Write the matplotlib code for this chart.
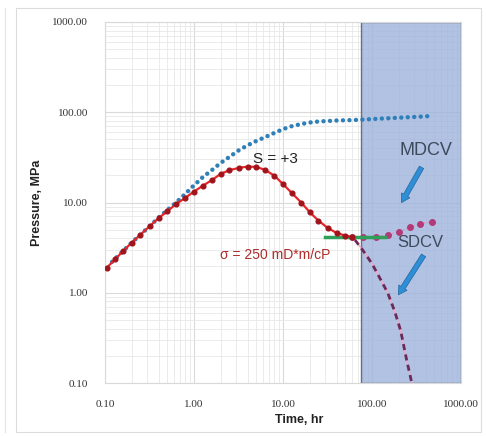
import numpy as np
import matplotlib
matplotlib.use('Agg')
import matplotlib.pyplot as plt
from matplotlib.patches import Rectangle, FancyArrowPatch
from matplotlib.lines import Line2D
from matplotlib.ticker import FixedLocator, LogLocator, NullFormatter

# red curve (S = +3), matched data
red_t = [0.105, 0.13, 0.16, 0.2, 0.25, 0.32, 0.4, 0.5, 0.63, 0.8, 1.0, 1.25, 1.6, 2.0,
         2.5, 3.2, 4.0, 5.0, 6.3, 8.0, 10, 12.5, 16, 20, 25, 32, 40, 50, 60]
red_p = [1.9, 2.35, 2.9, 3.6, 4.4, 5.5, 6.7, 8.0, 9.6, 11.3, 13.2, 15.3, 17.8, 20.8,
         22.8, 24.2, 25.0, 24.8, 23.0, 19.8, 16, 12.8, 10, 7.8, 6.3, 5.2, 4.6, 4.3, 4.15]

# MDCV (blue dots)
mdcv_t = [0.12, 0.16, 0.2, 0.25, 0.32, 0.4, 0.5, 0.63, 0.8, 1.0, 1.25, 1.6, 2.0, 2.5,
          3.2, 4.0, 5.0, 6.3, 8.0, 10, 12.5, 16, 20, 25, 32, 40, 50, 63, 80, 100,
          125, 160, 200, 250, 320, 400, 450]
mdcv_p = [2.2, 2.9, 3.6, 4.4, 5.5, 6.8, 8.2, 10, 12.5, 15.5, 19, 23, 27.5, 32,
          38, 43, 48, 53, 59, 65, 70, 74, 77, 79, 80, 81, 81.5, 82, 83, 84,
          85, 86, 87, 88, 89, 90, 91]

# SDCV (pink dots)
sdcv_t = [60, 80, 110, 150, 200, 270, 350, 470]
sdcv_p = [4.1, 4.1, 4.2, 4.4, 4.75, 5.3, 5.85, 6.1]

# dashed decline
dash_t = [50, 65, 80, 100, 125, 150, 180, 210, 245, 280]
dash_p = [4.3, 3.8, 2.9, 2.1, 1.4, 1.0, 0.62, 0.38, 0.18, 0.1]

# green line (sigma)
green_t = [30, 140]
green_p = [4.2, 4.2]

# shaded late-time region
shade_t = [75, 1000]

xticks = [0.1, 1, 10, 100, 1000]
yticks = [0.1, 1, 10, 100, 1000]

fig = plt.figure(figsize=(4.86, 4.36), dpi=100)
ax = fig.add_axes([105/486, 1-383/436, 356/486, 361/436])
ax.set_xscale('log')
ax.set_yscale('log')
ax.set_xlim(0.1, 1000)
ax.set_ylim(0.1, 1000)

ax.xaxis.set_major_locator(FixedLocator(xticks))
ax.yaxis.set_major_locator(FixedLocator(yticks))
ax.xaxis.set_minor_locator(LogLocator(base=10, subs=np.arange(2, 10)))
ax.yaxis.set_minor_locator(LogLocator(base=10, subs=np.arange(2, 10)))
ax.xaxis.set_minor_formatter(NullFormatter())
ax.yaxis.set_minor_formatter(NullFormatter())
ax.set_xticklabels(['%.2f' % v for v in xticks], family='Liberation Serif', fontsize=8, color='#333333')
ax.set_yticklabels(['%.2f' % v for v in yticks], family='Liberation Serif', fontsize=8, color='#333333')
ax.tick_params(which='both', length=0)
ax.tick_params(axis='x', pad=12)
ax.tick_params(axis='y', pad=12)
ax.grid(True, which='major', color='#dadada', lw=0.8)
ax.grid(True, which='minor', color='#e8e8e8', lw=0.6)
ax.set_axisbelow(True)
for s in ax.spines.values():
    s.set_color('#d9d9d9')
    s.set_linewidth(0.8)

ax.axvspan(shade_t[0], shade_t[1], facecolor='#9fb3dc', alpha=0.8,
           edgecolor='#4a5060', lw=1.0, zorder=1)

ax.plot(mdcv_t, mdcv_p, color='#2f80b8', lw=3.2, linestyle=(0, (0.01, 1.45)),
        dash_capstyle='round', zorder=3)

ax.plot(dash_t, dash_p, color='#f2a6c8', lw=1.0, zorder=3)
ax.plot(dash_t, dash_p, color='#6b2a58', lw=2.0, linestyle=(0, (2.2, 1.6)), zorder=4)

ax.plot(sdcv_t, sdcv_p, color='#e58ab4', lw=1.0, linestyle=':', zorder=3)
ax.plot(sdcv_t, sdcv_p, linestyle='none', marker='o', ms=4, color='#b23a78', zorder=4)

ax.plot(green_t, green_p, color='#2ea05a', lw=2.5, zorder=4)

ax.plot(red_t, red_p, color='#e8262a', lw=1.6, zorder=5)
ax.plot(red_t, red_p, linestyle='none', marker='o', ms=3.4, color='#a0141c', zorder=6)

ax.text(0.48, 0.62, 'S = +3', transform=ax.transAxes, fontsize=11,
        family='Liberation Sans', color='#222222', ha='center', va='center')
ax.text(0.323, 0.355, 'σ = 250 mD*m/cP', transform=ax.transAxes, fontsize=10,
        family='Liberation Sans', color='#b02a2a', ha='left', va='center')
ax.text(0.902, 0.645, 'MDCV', transform=ax.transAxes, fontsize=13,
        family='Liberation Sans', color='#3c4a5c', ha='center', va='center')
ax.text(0.885, 0.388, 'SDCV', transform=ax.transAxes, fontsize=12,
        family='Liberation Sans', color='#3c4a5c', ha='center', va='center')

for tail, head in [((0.893, 0.604), (0.829, 0.493)), ((0.899, 0.36), (0.82, 0.238))]:
    arr = FancyArrowPatch(tail, head, transform=ax.transAxes,
                          arrowstyle='simple,head_width=7,head_length=6,tail_width=3.5',
                          facecolor='#2e8fd6', edgecolor='#2a6fa8', lw=0.6, zorder=7)
    ax.add_patch(arr)

ax.set_xlabel('Time, hr', family='Liberation Sans', fontsize=9, fontweight='bold', color='#222222')
ax.set_ylabel('Pressure, MPa', family='Liberation Sans', fontsize=9, fontweight='bold', color='#222222')
ax.xaxis.set_label_coords(0.545, -0.085)
ax.yaxis.set_label_coords(-0.175, 0.5)

# outer frame
fig.patches.append(Rectangle((16/486, 1-432/436), 465/486, 424/436, transform=fig.transFigure,
                             fill=False, edgecolor='#dcdcdc', lw=0.8))
fig.lines.append(Line2D([5/486, 5/486], [1-432/436, 1-8/436], transform=fig.transFigure,
                        color='#e4e4e4', lw=0.8))

fig.savefig('out.png', dpi=100)
